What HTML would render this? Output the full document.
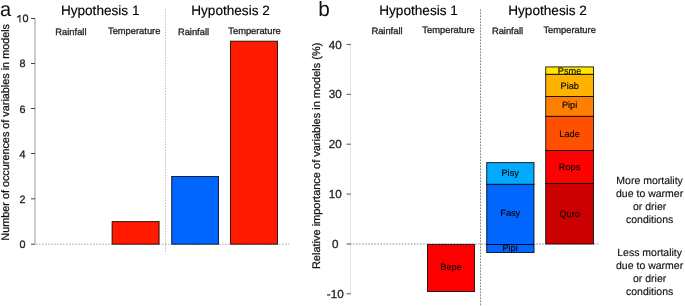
<!DOCTYPE html>
<html><head><meta charset="utf-8">
<style>
html,body{margin:0;padding:0;background:#fff;width:685px;height:306px;overflow:hidden}
svg{display:block;will-change:transform}
text{font-family:"Liberation Sans",sans-serif;fill:#111;text-rendering:geometricPrecision}
.t{font-size:13.6px;text-anchor:middle;fill:#000;stroke:#000;stroke-width:0.15px}
.s{font-size:9.35px;text-anchor:middle;fill:#222;stroke:#222;stroke-width:0.3px}
.n{font-size:10.8px;text-anchor:middle;fill:#222;stroke:#222;stroke-width:0.3px}
.nb{font-size:11.7px;text-anchor:middle;fill:#222;stroke:#222;stroke-width:0.3px}
.bl{font-size:9.2px;text-anchor:middle;fill:#000;stroke:#000;stroke-width:0.12px}
.r{font-size:10.5px;text-anchor:middle;fill:#111;stroke:#111;stroke-width:0.15px}
.bar{stroke:rgba(0,0,0,0.82);stroke-width:1}
</style></head><body>
<svg width="685" height="306" viewBox="0 0 685 306">
<!-- ================= Panel a ================= -->
<text x="0" y="16.3" style="font-size:20px">a</text>
<!-- y axis -->
<line x1="35" y1="18.3" x2="35" y2="244.2" stroke="#ccc" stroke-width="2"/>
<g stroke="#444" stroke-width="1">
<line x1="31" y1="18.5" x2="35" y2="18.5"/>
<line x1="31" y1="63.5" x2="35" y2="63.5"/>
<line x1="31" y1="108.5" x2="35" y2="108.5"/>
<line x1="31" y1="153.5" x2="35" y2="153.5"/>
<line x1="31" y1="198.8" x2="35" y2="198.8"/>
<line x1="31" y1="244.2" x2="35" y2="244.2"/>
</g>
<g class="n">
<text class="n" x="25.6" y="22.2">0</text>
<path d="M19.9 14.9V22.6M19.7 15.2Q18.9 16.6 16.9 17.3" fill="none" stroke="#222" stroke-width="1.1"/>
<text class="n" x="22.6" y="67.4">8</text>
<text class="n" x="22.6" y="112.6">6</text>
<text class="n" x="22.6" y="157.8">4</text>
<text class="n" x="22.6" y="202.9">2</text>
<text class="n" x="22.6" y="248.1">0</text>
</g>
<text transform="translate(9.4,132.3) rotate(-90)" style="font-size:10.83px;text-anchor:middle;fill:#111;stroke:#111;stroke-width:0.25px">Number of occurences of variables in models</text>
<!-- titles -->
<text class="t" x="100.2" y="15.2">Hypothesis 1</text>
<text class="t" x="230.5" y="15.3">Hypothesis 2</text>
<text class="s" x="70.9" y="34.7">Rainfall</text>
<text class="s" x="134.2" y="33.8">Temperature</text>
<text class="s" x="193.5" y="34.7">Rainfall</text>
<text class="s" x="254.5" y="33.7">Temperature</text>
<!-- separator & baseline -->
<line x1="165.5" y1="9.5" x2="165.5" y2="253.5" stroke="#bdbdbd" stroke-width="1" stroke-dasharray="1.4 1.4"/>
<line x1="36" y1="244.2" x2="289" y2="244.2" stroke="#a8a8a8" stroke-width="1" stroke-dasharray="1.6 1.4"/>
<!-- bars -->
<rect class="bar" x="112.1" y="221.6" width="47" height="22.6" fill="#FF1A00"/>
<rect class="bar" x="171.7" y="176.5" width="46.8" height="67.7" fill="#0066FF"/>
<rect class="bar" x="230.5" y="41.2" width="47" height="203" fill="#FF1A00"/>

<!-- ================= Panel b ================= -->
<text x="318.2" y="16.3" style="font-size:20.8px">b</text>
<line x1="350.5" y1="44.4" x2="350.5" y2="293.8" stroke="#e3e3e3" stroke-width="1"/>
<g stroke="#555" stroke-width="1">
<line x1="346.6" y1="44.4" x2="350.9" y2="44.4"/>
<line x1="346.6" y1="94.3" x2="350.9" y2="94.3"/>
<line x1="346.6" y1="144.2" x2="350.9" y2="144.2"/>
<line x1="346.6" y1="194.1" x2="350.9" y2="194.1"/>
<line x1="346.6" y1="244.0" x2="350.9" y2="244.0"/>
<line x1="346.6" y1="293.8" x2="350.9" y2="293.8"/>
</g>
<text class="nb" x="335.2" y="48.5">40</text>
<text class="nb" x="335.2" y="98.3">30</text>
<text class="nb" x="335.2" y="148.2">20</text>
<text class="nb" x="335.2" y="198.0">10</text>
<text class="nb" x="335.2" y="247.9">0</text>
<text class="nb" x="335.2" y="297.7">-10</text>
<text transform="translate(320.3,155.85) rotate(-90)" style="font-size:10.99px;text-anchor:middle;fill:#111;stroke:#111;stroke-width:0.25px">Relative importance of variables in models (%)</text>
<text class="t" x="418.55" y="15.2">Hypothesis 1</text>
<text class="t" x="547.55" y="15.2">Hypothesis 2</text>
<text class="s" x="387" y="34.2">Rainfall</text>
<text class="s" x="448.6" y="32.8">Temperature</text>
<text class="s" x="507.5" y="34.2">Rainfall</text>
<text class="s" x="569.65" y="33.2">Temperature</text>
<line x1="480.5" y1="9.4" x2="480.5" y2="306" stroke="#888" stroke-width="1" stroke-dasharray="1.8 1.2"/>
<line x1="350" y1="244" x2="599" y2="244" stroke="#8c8c8c" stroke-width="1" stroke-dasharray="1.5 1.55"/>
<!-- Bepe -->
<rect class="bar" x="427.5" y="244.4" width="47" height="47.1" fill="#FF0000"/>
<text class="bl" x="451.1" y="270">Bepe</text>
<!-- rainfall stack -->
<rect class="bar" x="486.7" y="162.6" width="47.3" height="21.8" fill="#00AAFF"/>
<rect class="bar" x="486.7" y="184.4" width="47.3" height="60.1" fill="#0066FF"/>
<rect class="bar" x="486.7" y="244.5" width="47.3" height="8" fill="#0066FF"/>
<text class="bl" x="510.15" y="175.6">Pisy</text>
<text class="bl" x="510.25" y="216.2">Fasy</text>
<text class="bl" x="510.1" y="250.8">Pipi</text>
<!-- temperature stack -->
<rect class="bar" x="545.7" y="66.9" width="47.8" height="7.5" fill="#FFE600"/>
<rect class="bar" x="545.7" y="74.4" width="47.8" height="22.1" fill="#FFB300"/>
<rect class="bar" x="545.7" y="96.5" width="47.8" height="19.9" fill="#FF8000"/>
<rect class="bar" x="545.7" y="116.4" width="47.8" height="34.1" fill="#FF5000"/>
<rect class="bar" x="545.7" y="150.5" width="47.8" height="33" fill="#FF0000"/>
<rect class="bar" x="545.7" y="183.5" width="47.8" height="60.5" fill="#CC0000"/>
<text class="bl" x="569.5" y="73.7">Psme</text>
<text class="bl" x="569.7" y="88.7">Piab</text>
<text class="bl" x="569.6" y="108.4">Pipi</text>
<text class="bl" x="569.6" y="136.9">Lade</text>
<text class="bl" x="569.6" y="169.5">Rops</text>
<text class="bl" x="569.6" y="216.8">Quro</text>
<!-- right annotations -->
<text class="r" x="649.6" y="183.7">More mortality</text>
<text class="r" x="649.6" y="197">due to warmer</text>
<text class="r" x="649.6" y="210.3">or drier</text>
<text class="r" x="649.6" y="223.3">conditions</text>
<text class="r" x="649.6" y="255.9">Less mortality</text>
<text class="r" x="649.6" y="268.6">due to warmer</text>
<text class="r" x="649.6" y="281.9">or drier</text>
<text class="r" x="649.6" y="295.3">conditions</text>
</svg>
</body></html>
